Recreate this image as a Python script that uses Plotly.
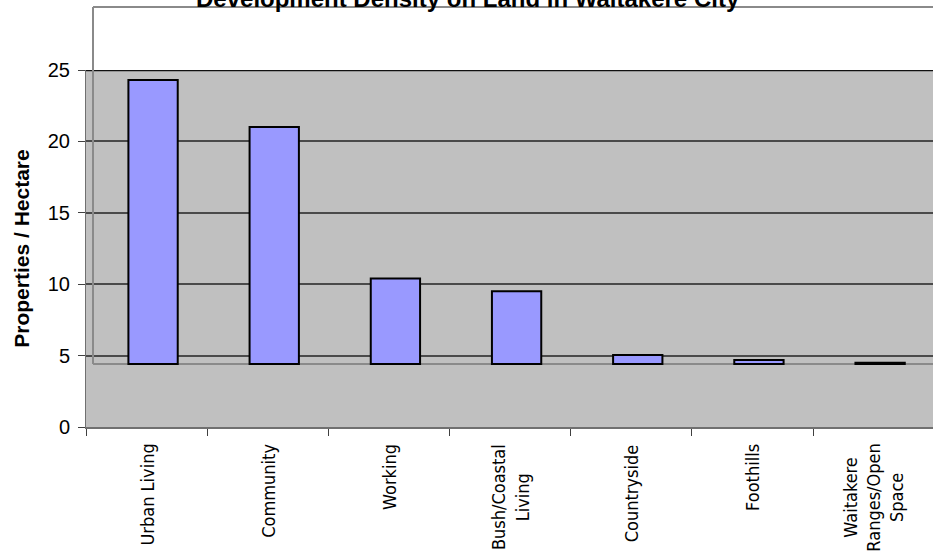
import plotly.graph_objects as go

# Development density by land-use zone (properties per hectare)
categories = [
    "Urban Living",
    "Community",
    "Working",
    "Bush/Coastal<br>Living",
    "Countryside",
    "Foothills",
    "Waitakere<br>Ranges/Open<br>Space",
]
density_top = [24.3, 21.0, 10.4, 9.5, 5.05, 4.7, 4.5]
floor_level = 4.42

y_ticks = [0, 5, 10, 15, 20, 25]

heights = [v - floor_level for v in density_top]

W, H = 933, 553
ML, MR, MT, MB = 86, 0, 70, 126
plot_w = W - ML - MR
plot_h = H - MT - MB

fig = go.Figure()
fig.add_trace(go.Bar(
    x=categories,
    y=heights,
    base=floor_level,
    width=0.407,
    offset=-0.15,
    marker=dict(color="#9999FF", line=dict(color="#000000", width=2)),
    hoverinfo="skip",
))

frame_color = "#8a8a8a"
left_x = 7 / plot_w
top_y = (plot_h + MT - 7) / plot_h
floor_paper = floor_level / 25

shapes = [
    # floor edge of the inner frame, between gridlines and bars
    dict(type="line", xref="x", yref="y", x0=-0.442, x1=6.6,
         y0=floor_level, y1=floor_level, layer="between",
         line=dict(color=frame_color, width=2)),
    # top border of the value area
    dict(type="line", xref="x", yref="y", x0=-0.5, x1=6.6,
         y0=y_ticks[-1], y1=y_ticks[-1], layer="between",
         line=dict(color="#111111", width=2.5)),
    # left edge of the inner frame
    dict(type="line", xref="paper", yref="paper", x0=left_x, x1=left_x,
         y0=floor_paper, y1=top_y, layer="above",
         line=dict(color=frame_color, width=2)),
    # top edge of the inner frame
    dict(type="line", xref="paper", yref="paper", x0=left_x, x1=1.01,
         y0=top_y, y1=top_y, layer="above",
         line=dict(color=frame_color, width=2)),
]

label_font = dict(family="Liberation Sans Narrow, DejaVu Sans Condensed, Liberation Sans, sans-serif",
                  size=18, color="#000000")

annotations = [dict(
    text="<b>Development Density on Land in Waitakere City</b>",
    xref="paper", yref="paper", x=(468 - ML) / plot_w, y=(plot_h + MT + 2) / plot_h,
    xanchor="center", yanchor="middle", showarrow=False,
    font=dict(family="Liberation Sans, Arial, sans-serif", size=24, color="#000000"),
)]
# category labels, rotated and centred line by line under each slot
for cat in categories:
    annotations.append(dict(
        text=cat, xref="x", yref="paper", x=cat, y=-15 / plot_h,
        xanchor="center", yanchor="top", textangle=-90, align="center",
        showarrow=False, font=label_font,
    ))

fig.update_layout(
    width=W, height=H,
    margin=dict(l=ML, r=MR, t=MT, b=MB, pad=0),
    paper_bgcolor="#FFFFFF",
    plot_bgcolor="#C0C0C0",
    showlegend=False,
    shapes=shapes,
    annotations=annotations,
    font=dict(family="Liberation Sans, Arial, sans-serif", color="#000000"),
    xaxis=dict(
        type="category",
        range=[-0.5, 6.49],
        automargin=False,
        tickson="boundaries",
        ticks="outside", ticklen=7, tickcolor="#404040", tickwidth=1,
        showticklabels=False,
        showgrid=False,
        showline=True, linecolor="#707070", linewidth=2,
        zeroline=False,
    ),
    yaxis=dict(
        range=[0, 25],
        automargin=False,
        tickvals=y_ticks,
        ticks="outside", ticklen=7, tickcolor="#404040", tickwidth=1,
        ticklabelstandoff=4,
        tickfont=dict(family="Liberation Sans, Arial, sans-serif", size=20),
        showgrid=True, gridcolor="#4a4a4a", gridwidth=1.5,
        showline=True, linecolor="#707070", linewidth=1,
        zeroline=False,
        title=dict(text="<b>Properties / Hectare</b>", standoff=12,
                   font=dict(family="Liberation Sans, Arial, sans-serif", size=21)),
    ),
)

fig.write_html("out.html")
